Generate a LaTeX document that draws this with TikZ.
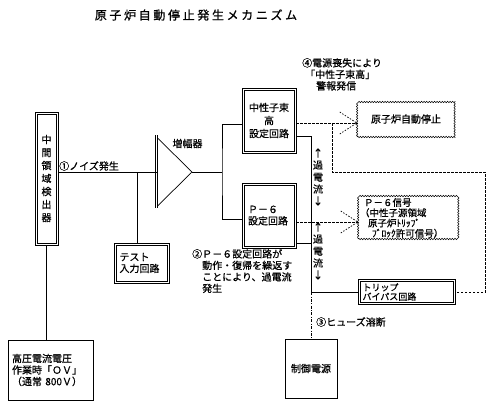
\documentclass[tikz,border=0pt]{standalone}
\usepackage{fontspec}
\setmainfont{Noto Sans CJK JP}[FakeBold=0.7]
\newfontfamily\titlefont{Noto Sans CJK JP}[LetterSpace=22, FakeBold=0.9]
\usetikzlibrary{arrows.meta, positioning, calc, decorations.pathmorphing}

\begin{document}
\begin{tikzpicture}[
    x=1pt, y=-1pt,
    every node/.style={font=\fontsize{10}{11.5}\selectfont, inner sep=0pt},
    dbox/.style={
        rectangle,
        draw=black,
        line width=0.7pt,
        align=center
    },
    sbox/.style={
        rectangle,
        draw=black,
        line width=0.7pt,
        align=center
    },
    wavebox/.style={
        rectangle,
        draw=black,
        line width=0.5pt,
        decorate,
        decoration={snake, amplitude=0.7pt, segment length=2.6pt},
        align=center
    },
    wire/.style={line width=0.7pt, draw=black},
    inner/.style={line width=0.6pt, draw=black},
    sigline/.style={line width=0.7pt, draw=black, dash pattern=on 2.5pt off 1.5pt},
    headline/.style={line width=0.7pt, draw=black, dash pattern=on 1.5pt off 1.5pt},
    fuse/.style={line width=0.7pt, draw=black, dash pattern=on 3pt off 1.5pt on 0.8pt off 1.5pt}
]
\useasboundingbox (0,0) rectangle (500,405);

\node (title) at (196,15) {\titlefont\fontsize{12}{14}\selectfont 原子炉自動停止発生メカニズム};

\node[dbox, minimum width=23pt, minimum height=133pt, font=\fontsize{10}{13}\selectfont] (det) at (46.5,178.5) {中\\間\\領\\域\\検\\出\\器};
\node[sbox, minimum width=85pt, minimum height=60pt, text width=77pt, align=left] (hv) at (50.5,370) {高圧電流電圧\\作業時「ＯＶ」\\（通常 800Ｖ）};
\node[dbox, minimum width=55pt, minimum height=40pt, text width=44pt, align=left] (test) at (141.5,263) {テスト\\入力回路};
\node[dbox, minimum width=54pt, minimum height=65pt, font=\fontsize{10}{13}\selectfont] (hi) at (269,120.5) {中性子束\\高\\設定回路};
\node[dbox, minimum width=54pt, minimum height=65pt, text width=42pt, align=left] (p6) at (269,215.5) {Ｐ－６\\設定回路};
\node[wavebox, minimum width=98pt, minimum height=36pt] (scram) at (406,119) {原子炉自動停止};
\node[wavebox, minimum width=99pt, minimum height=42pt, text width=95pt, align=left, font=\fontsize{9.5}{10.3}\selectfont] (p6sig) at (407.5,218) {\hspace*{4pt}Ｐ－６信号\\（中性子源領域\\\hspace*{8pt}原子炉ﾄﾘｯﾌﾟ\\\hspace*{12pt}ﾌﾞﾛｯｸ許可信号）};
\node[dbox, minimum width=97pt, minimum height=25pt, text width=88pt, align=left, font=\fontsize{9}{9.3}\selectfont] (trip) at (406.5,292) {トリップ\\バイパス回路};
\node[sbox, minimum width=52pt, minimum height=59pt] (ctrl) at (311,368.5) {制御電源};

\foreach \n in {det, test, hi, p6, trip}
    \draw[inner] ([shift={(2.2pt,-2.2pt)}]\n.north west) rectangle ([shift={(-2.2pt,2.2pt)}]\n.south east);

\node[anchor=west] (noise) at (59,166) {①ノイズ発生};
\node (amplab) at (187.5,143.5) {増幅器};
\node[anchor=north west, align=left] (alarm) at (302,58) {④電源喪失により\\\hspace*{3pt}「中性子束高」\\\hspace*{14pt}警報発信};
\node[anchor=north west, align=left] (cause) at (192,249) {②Ｐ－６設定回路が\\\hspace*{10pt}動作・復帰を繰返す\\\hspace*{10pt}ことにより、過電流\\\hspace*{10pt}発生};
\node[anchor=west] (fuselab) at (316,322) {③ヒューズ溶断};
\node[align=center, font=\fontsize{10}{12}\selectfont] (oc1) at (318,177) {↑\\過\\電\\流\\↓};
\node[align=center, font=\fontsize{10}{12}\selectfont] (oc2) at (318,251) {↑\\過\\電\\流\\↓};

\coordinate (ampin) at (157.5,172);
\coordinate (ampout) at (192,172);
\coordinate (tap) at (137,172);
\coordinate (split) at (222,172);
\coordinate (bus) at (311,0);
\coordinate (br) at (332,0);
\coordinate (loop) at (485,172);
\coordinate (hiout) at ([yshift=-2.5pt]hi.east);
\coordinate (p6out) at ([yshift=-6.5pt]p6.east);

\draw[wire] (155,135) -- (155,208);
\draw[wire] (157.5,135) -- (157.5,208);
\draw[wire] (157.5,138) -- (ampout) -- (157.5,206);

\draw[wire] (det.east |- ampin) -- (ampin);
\draw[wire] (tap) -- (tap |- test.north);
\draw[wire] (ampout) -- (split);
\draw[wire] ([yshift=-3.5pt]hi.west) -| (split) |- ([yshift=-3.5pt]p6.west);
\draw[wire] (det.south) -- (det.south |- hv.north);

\draw[sigline] (hiout) -- (hiout -| scram.west);
\draw[headline] ($(hiout -| scram.west)+(-17,-11)$) -- (hiout -| scram.west) -- ++(-17,11);
\draw[sigline] (p6out) -- (p6out -| p6sig.west);
\draw[headline] ($(p6out -| p6sig.west)+(-17,-11)$) -- (p6out -| p6sig.west) -- ++(-17,11);
\draw[sigline] (hiout -| br) |- (loop) |- (trip.east);

\draw[wire] ([yshift=-15.5pt]hi.east) -| (bus |- trip.west) -- (trip.west);
\draw[wire] ([yshift=-27.5pt]p6.east) -- ([yshift=-27.5pt]p6.east -| bus);
\draw[fuse] (bus |- trip.west) -- (ctrl.north);
\end{tikzpicture}
\end{document}
